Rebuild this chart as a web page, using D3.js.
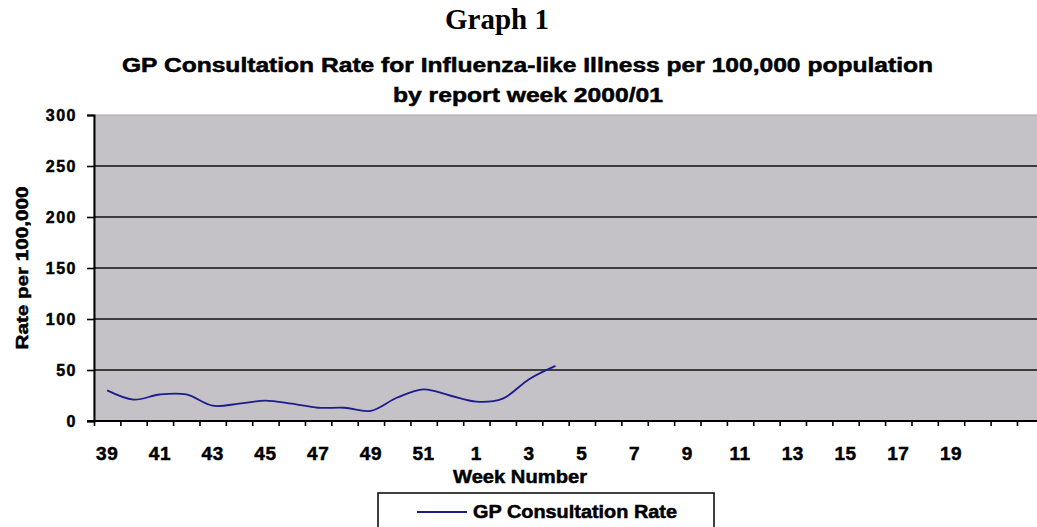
<!DOCTYPE html>
<html>
<head>
<meta charset="utf-8">
<script src="https://cdn.jsdelivr.net/npm/d3@7"></script>
<style>
  body { margin: 0; background: #fff; }
  svg { display: block; }
  text { font-family: Arial, "Liberation Sans", sans-serif; font-weight: bold; fill: #000; }
  .heavy { stroke: #000; stroke-width: 0.5px; }
</style>
</head>
<body>
<script>
// week numbers on the category axis (2000/01 season)
var weeks = [39, 40, 41, 42, 43, 44, 45, 46, 47, 48, 49, 50, 51, 52,
             1, 2, 3, 4, 5, 6, 7, 8, 9, 10, 11, 12, 13, 14, 15, 16, 17, 18, 19, 20];
// GP consultation rate per 100,000 (weeks 39 .. 4)
var rates = [30, 21, 26, 26, 15, 17, 20, 17, 13, 13, 10, 23, 31, 25, 19, 22, 41, 54];
var yTicks = [0, 50, 100, 150, 200, 250, 300];
var seriesName = "GP Consultation Rate";

var width = 1037, height = 527;
var plotLeft = 94, plotTop = 115, plotBottom = 421,
    step = 26.37, nSlots = 37;   // plot runs past the right edge of the picture
var plotRight = plotLeft + nSlots * step;

var svg = d3.select("body").append("svg")
    .attr("width", width)
    .attr("height", height);

var x = d3.scaleLinear()
    .domain([0, nSlots])
    .range([plotLeft, plotRight]);

var y = d3.scaleLinear()
    .domain([0, 300])
    .range([plotBottom, plotTop]);

// titles
svg.append("text")
    .attr("x", 497).attr("y", 29)
    .attr("text-anchor", "middle")
    .style("font-family", "'Times New Roman', 'Liberation Serif', serif")
    .style("font-size", "29px")
    .text("Graph 1");

svg.append("text")
    .attr("class", "heavy")
    .attr("x", 122).attr("y", 72)
    .attr("textLength", 811).attr("lengthAdjust", "spacingAndGlyphs")
    .style("font-size", "20px")
    .text("GP Consultation Rate for Influenza-like Illness per 100,000 population");

svg.append("text")
    .attr("class", "heavy")
    .attr("x", 393).attr("y", 102)
    .attr("textLength", 270).attr("lengthAdjust", "spacingAndGlyphs")
    .style("font-size", "20px")
    .text("by report week 2000/01");

// plot area
svg.append("rect")
    .attr("x", plotLeft).attr("y", plotTop)
    .attr("width", plotRight - plotLeft).attr("height", plotBottom - plotTop)
    .attr("fill", "#c4c2c6")
    .attr("stroke", "#a8a8a8")
    .attr("stroke-width", 1);

// gridlines
svg.append("g").selectAll("line")
    .data(yTicks.filter(function(d) { return d > 0 && d < 300; }))
    .enter().append("line")
    .attr("x1", plotLeft).attr("x2", plotRight)
    .attr("y1", function(d) { return y(d); })
    .attr("y2", function(d) { return y(d); })
    .attr("stroke", "#111")
    .attr("stroke-width", 1.6);

// y axis
var yAxis = svg.append("g")
    .attr("transform", "translate(" + plotLeft + ",0)")
    .call(d3.axisLeft(y).tickValues(yTicks).tickSize(7).tickPadding(10));
yAxis.select(".domain").attr("stroke", "#000").attr("stroke-width", 2);
yAxis.selectAll(".tick line").attr("stroke", "#000").attr("stroke-width", 1.6);
yAxis.selectAll(".tick text")
    .attr("class", "heavy")
    .attr("fill", "#000")
    .style("font-size", "16px")
    .style("letter-spacing", "1.5px");

// x axis: ticks on category boundaries
var xAxis = svg.append("g")
    .attr("transform", "translate(0," + plotBottom + ")")
    .call(d3.axisBottom(x).tickValues(d3.range(nSlots + 1)).tickSize(5).tickFormat(""));
xAxis.select(".domain").attr("stroke", "#000").attr("stroke-width", 2)
    .attr("d", "M" + (plotLeft - 7) + ",0H" + plotRight);
xAxis.selectAll(".tick line").attr("stroke", "#000").attr("stroke-width", 1.6);

// category labels on every other week
svg.append("g").selectAll("text")
    .data(weeks.filter(function(d, i) { return i % 2 === 0; }))
    .enter().append("text")
    .attr("class", "heavy")
    .attr("x", function(d, i) { return x(i * 2 + 0.5); })
    .attr("y", 460)
    .attr("text-anchor", "middle")
    .style("font-size", "19px")
    .style("letter-spacing", "0.5px")
    .text(function(d) { return d; });

svg.append("text")
    .attr("class", "heavy")
    .attr("x", 520).attr("y", 483)
    .attr("text-anchor", "middle")
    .attr("textLength", 134).attr("lengthAdjust", "spacingAndGlyphs")
    .style("font-size", "19px")
    .text("Week Number");

svg.append("text")
    .attr("class", "heavy")
    .attr("transform", "translate(28,268) rotate(-90)")
    .attr("text-anchor", "middle")
    .attr("textLength", 163).attr("lengthAdjust", "spacingAndGlyphs")
    .style("font-size", "17px")
    .text("Rate per 100,000");

// series line
var line = d3.line()
    .x(function(d, i) { return x(i + 0.5); })
    .y(function(d) { return y(d); })
    .curve(d3.curveCatmullRom.alpha(0.5));

svg.append("path")
    .datum(rates)
    .attr("d", line)
    .attr("fill", "none")
    .attr("stroke", "#1c1c8c")
    .attr("stroke-width", 1.8);

// legend
var legend = svg.append("g");
legend.append("rect")
    .attr("x", 378).attr("y", 493)
    .attr("width", 336).attr("height", 60)
    .attr("fill", "#fff")
    .attr("stroke", "#111")
    .attr("stroke-width", 1.6);
legend.append("line")
    .attr("x1", 417).attr("x2", 467)
    .attr("y1", 512).attr("y2", 512)
    .attr("stroke", "#1c1c8c")
    .attr("stroke-width", 1.8);
legend.append("text")
    .attr("class", "heavy")
    .attr("x", 473).attr("y", 518)
    .attr("textLength", 204).attr("lengthAdjust", "spacingAndGlyphs")
    .style("font-size", "18px")
    .text(seriesName);
</script>
</body>
</html>
